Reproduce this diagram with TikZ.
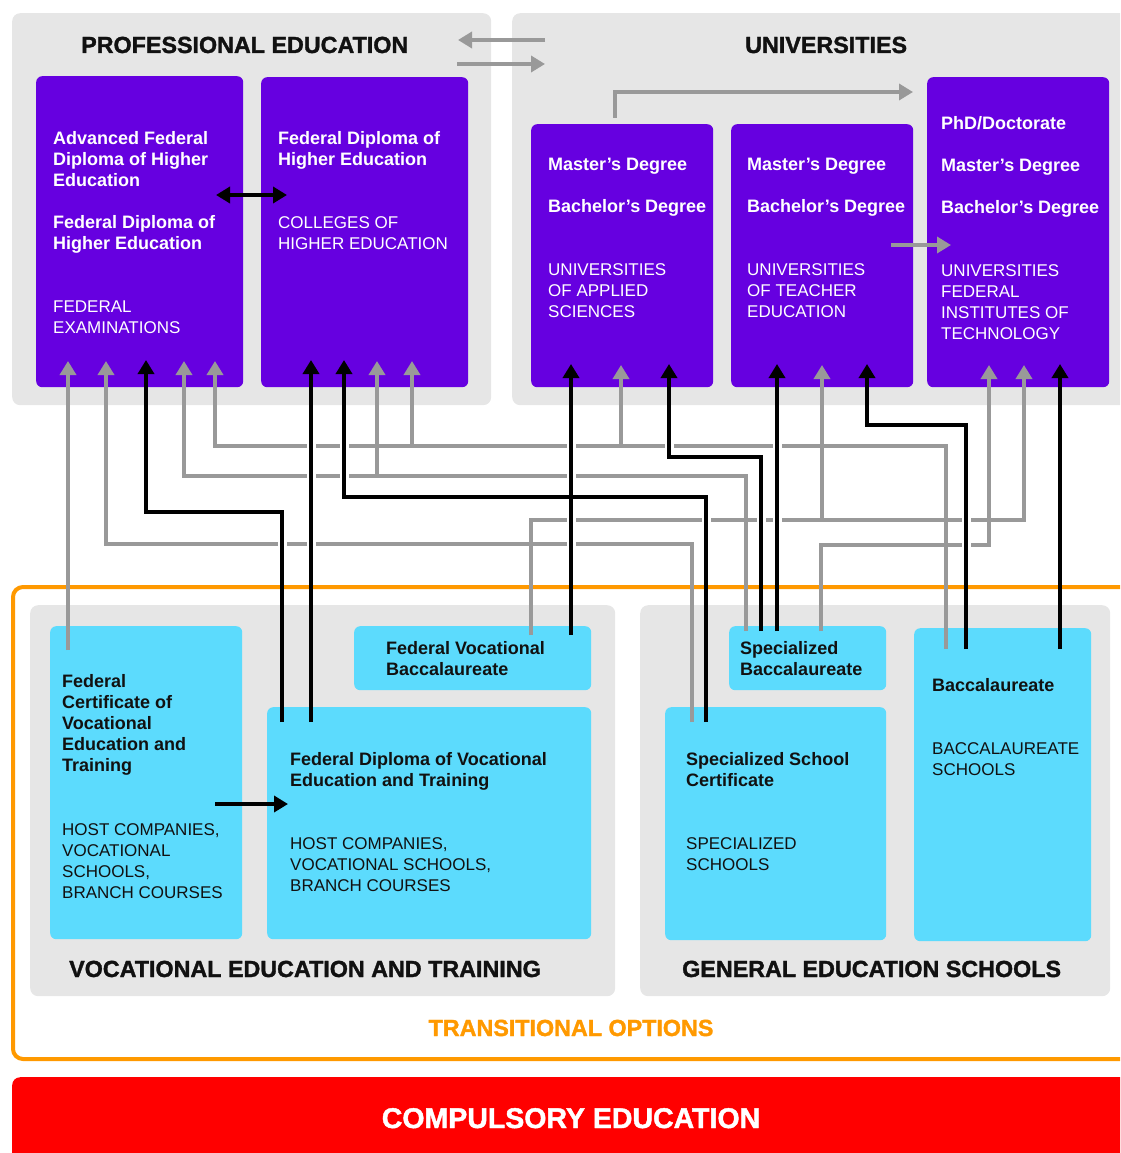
\documentclass[tikz,border=0pt]{standalone}
\usepackage{fontspec}
\setmainfont{Liberation Sans}
\newfontfamily\heavyfont{Liberation Sans Bold}[FakeBold=1.5]
\usetikzlibrary{arrows.meta}
\definecolor{panel}{HTML}{E6E6E6}
\definecolor{purp}{HTML}{6600E0}
\definecolor{cyanb}{HTML}{5CDBFD}
\definecolor{conn}{HTML}{999999}
\definecolor{orng}{HTML}{FF9900}
\definecolor{redb}{HTML}{FF0000}
\definecolor{ink}{HTML}{111111}
\newcommand\fbold{\fontsize{18}{21}\selectfont\bfseries}
\newcommand\freg{\fontsize{17}{21}\selectfont}
\newcommand\fhead{\heavyfont\fontsize{23.3}{28}\selectfont}
\begin{document}
\begin{tikzpicture}[x=1pt,y=-1pt,
  graypanel/.style={fill=panel, rounded corners=8pt, inner sep=0pt, anchor=north west},
  purplebox/.style={fill=purp, rounded corners=6pt, inner sep=0pt, anchor=north west},
  cyanbox/.style={fill=cyanb, rounded corners=6pt, inner sep=0pt, anchor=north west},
  wb/.style={text=white, font=\fbold, align=left, anchor=base west, inner sep=0pt},
  wr/.style={text=white, font=\freg, align=left, anchor=base west, inner sep=0pt},
  kb/.style={text=ink, font=\fbold, align=left, anchor=base west, inner sep=0pt},
  kr/.style={text=ink, font=\freg, align=left, anchor=base west, inner sep=0pt},
  head/.style={text=ink, font=\fhead, anchor=base west, inner sep=0pt},
  garrow/.style={draw=conn, line width=4pt, -{Triangle[width=16pt,length=14pt]}},
  barrow/.style={draw=black, line width=3.5pt, -{Triangle[width=16pt,length=14pt]}},
  halo/.style={draw=white, line width=9pt},
]
\clip (0,0) rectangle (1120,1153);
% ---------- top panels ----------
\node[graypanel, minimum width=479pt, minimum height=392pt] (pepanel) at (12,13) {};
\node[graypanel, minimum width=630pt, minimum height=392pt] (unipanel) at (512,13) {};
\node[head] (pehead) at (81,53) {PROFESSIONAL EDUCATION};
\node[head] (unihead) at (745,53) {UNIVERSITIES};

\node[purplebox, minimum width=207pt, minimum height=311pt] (pe1) at (36,76) {};
\node[purplebox, minimum width=207pt, minimum height=310pt] (pe2) at (261,77) {};
\node[purplebox, minimum width=182pt, minimum height=263pt] (u1) at (531,124) {};
\node[purplebox, minimum width=182pt, minimum height=263pt] (u2) at (731,124) {};
\node[purplebox, minimum width=182pt, minimum height=310pt] (u3) at (927,77) {};

% (multi-line nodes: base = baseline of the last line)
\node[wb] (pe1t1) at (53,186) {Advanced Federal\\Diploma of Higher\\Education};
\node[wb] (pe1t2) at (53,249) {Federal Diploma of\\Higher Education};
\node[wr] (pe1t3) at (53,333) {FEDERAL\\EXAMINATIONS};
\node[wb] (pe2t1) at (278,165) {Federal Diploma of\\Higher Education};
\node[wr] (pe2t2) at (278,249) {COLLEGES OF\\HIGHER EDUCATION};

\node[wb] (u1t1) at (548,170) {Master’s Degree};
\node[wb] (u1t2) at (548,212) {Bachelor’s Degree};
\node[wr] (u1t3) at (548,317) {UNIVERSITIES\\OF APPLIED\\SCIENCES};
\node[wb] (u2t1) at (747,170) {Master’s Degree};
\node[wb] (u2t2) at (747,212) {Bachelor’s Degree};
\node[wr] (u2t3) at (747,317) {UNIVERSITIES\\OF TEACHER\\EDUCATION};
\node[wb] (u3t0) at (941,129) {PhD/Doctorate};
\node[wb] (u3t1) at (941,171) {Master’s Degree};
\node[wb] (u3t2) at (941,213) {Bachelor’s Degree};
\node[wr] (u3t3) at (941,339) {UNIVERSITIES\\FEDERAL\\INSTITUTES OF\\TECHNOLOGY};

% ---------- transitional options ----------
\node[draw=orng, line width=4pt, rounded corners=10pt, inner sep=0pt, anchor=north west,
      minimum width=1130pt, minimum height=472pt] (trans) at (11,585) {};
\node[graypanel, minimum width=585pt, minimum height=391pt] (vetpanel) at (30,605) {};
\node[graypanel, minimum width=470pt, minimum height=391pt] (gespanel) at (640,605) {};
\node[head] (vethead) at (69,977) {VOCATIONAL EDUCATION AND TRAINING};
\node[head] (geshead) at (682,977) {GENERAL EDUCATION SCHOOLS};
\node[text=orng, font=\fhead, anchor=base, inner sep=0pt] (transhead) at (571,1036) {TRANSITIONAL OPTIONS};

\node[cyanbox, minimum width=192pt, minimum height=313pt] (fc) at (50,626) {};
\node[cyanbox, minimum width=237pt, minimum height=64pt] (fvb) at (354,626) {};
\node[cyanbox, minimum width=324pt, minimum height=232pt] (fd) at (267,707) {};
\node[cyanbox, minimum width=157pt, minimum height=64pt] (sb) at (729,626) {};
\node[cyanbox, minimum width=221pt, minimum height=233pt] (ssc) at (665,707) {};
\node[cyanbox, minimum width=177pt, minimum height=313pt] (bacc) at (914,628) {};

\node[kb] (fct1) at (62,771) {Federal\\Certificate of\\Vocational\\Education and\\Training};
\node[kr] (fct2) at (62,898) {HOST COMPANIES,\\VOCATIONAL\\SCHOOLS,\\BRANCH COURSES};
\node[kb] (fvbt) at (386,675) {Federal Vocational\\Baccalaureate};
\node[kb] (fdt1) at (290,786) {Federal Diploma of Vocational\\Education and Training};
\node[kr] (fdt2) at (290,891) {HOST COMPANIES,\\VOCATIONAL SCHOOLS,\\BRANCH COURSES};
\node[kb] (sbt) at (740,675) {Specialized\\Baccalaureate};
\node[kb] (ssct1) at (686,786) {Specialized School\\Certificate};
\node[kr] (ssct2) at (686,870) {SPECIALIZED\\SCHOOLS};
\node[kb] (bacct1) at (932,691) {Baccalaureate};
\node[kr] (bacct2) at (932,775) {BACCALAUREATE\\SCHOOLS};

% ---------- compulsory ----------
\node[fill=redb, rounded corners=8pt, inner sep=0pt, anchor=north west,
      minimum width=1130pt, minimum height=100pt] (compulsory) at (12,1077) {};
\node[text=white, font=\heavyfont\fontsize{28.5}{34}\selectfont, anchor=base, inner sep=0pt] (comptext) at (571,1128) {COMPULSORY EDUCATION};

% ---------- ports ----------
\coordinate (fc1) at (68,650);
\coordinate (fvb1) at (531,635); \coordinate (fvb2) at (571,635);
\coordinate (fd1) at (282,722);  \coordinate (fd2) at (311,722);
\coordinate (sb1) at (746,631);  \coordinate (sb2) at (761,631);
\coordinate (sb3) at (777,631);  \coordinate (sb4) at (821,631);
\coordinate (ssc1) at (692,722); \coordinate (ssc2) at (706,722);
\coordinate (ba1) at (946,649);  \coordinate (ba2) at (966,649); \coordinate (ba3) at (1060,649);
\coordinate (pe1a) at (68,361);  \coordinate (pe1b) at (106,361); \coordinate (pe1c) at (146,360);
\coordinate (pe1d) at (184,361); \coordinate (pe1e) at (215,361);
\coordinate (pe2a) at (311,360); \coordinate (pe2b) at (344,360);
\coordinate (pe2c) at (377,361); \coordinate (pe2d) at (412,361);
\coordinate (u1a) at (571,364); \coordinate (u1b) at (621,365); \coordinate (u1c) at (669,364);
\coordinate (u2a) at (777,364); \coordinate (u2b) at (822,365); \coordinate (u2c) at (867,364);
\coordinate (u3a) at (989,365); \coordinate (u3b) at (1024,365); \coordinate (u3c) at (1060,364);

% ---------- gray connectors ----------
\draw[garrow] (fc1) -- (pe1a);
\draw[garrow] (ssc1) |- (pe1b |- 0,544) -- (pe1b);
\draw[garrow] (sb1) |- (pe1d |- 0,476) -- (pe1d);
\draw[garrow] (pe2c |- 0,476) -- (pe2c);
\draw[garrow] (ba1) |- (pe1e |- 0,446) -- (pe1e);
\draw[garrow] (pe2d |- 0,446) -- (pe2d);
\draw[garrow] (u1b |- 0,446) -- (u1b);
\draw[garrow] (fvb1) |- (u3b |- 0,520) -- (u3b);
\draw[garrow] (u2b |- 0,520) -- (u2b);
\draw[garrow] (sb4) |- (u3a |- 0,545) -- (u3a);

% ---------- halos ----------
\begin{scope}
\clip (0,407) rectangle (1120,580);
\draw[halo] (fd1) |- (pe1c |- 0,512) -- (pe1c);
\draw[halo] (fd2) -- (pe2a);
\draw[halo] (ssc2) |- (pe2b |- 0,497) -- (pe2b);
\draw[halo] (fvb2) -- (u1a);
\draw[halo] (sb2) |- (u1c |- 0,457) -- (u1c);
\draw[halo] (sb3) -- (u2a);
\draw[halo] (ba2) |- (u2c |- 0,425) -- (u2c);
\draw[halo] (ba3) -- (u3c);
\end{scope}

% ---------- black connectors ----------
\draw[barrow] (fd1) |- (pe1c |- 0,512) -- (pe1c);
\draw[barrow] (fd2) -- (pe2a);
\draw[barrow] (ssc2) |- (pe2b |- 0,497) -- (pe2b);
\draw[barrow] (fvb2) -- (u1a);
\draw[barrow] (sb2) |- (u1c |- 0,457) -- (u1c);
\draw[barrow] (sb3) -- (u2a);
\draw[barrow] (ba2) |- (u2c |- 0,425) -- (u2c);
\draw[barrow] (ba3) -- (u3c);

% ---------- other arrows ----------
\coordinate (uniL1) at (545,40); \coordinate (peR1) at (458,40);
\coordinate (peR2) at (457,64);  \coordinate (uniL2) at (545,64);
\draw[garrow] (uniL1) -- (peR1);
\draw[garrow] (peR2) -- (uniL2);
\coordinate (u1up) at (615,118); \coordinate (u3in) at (913,92);
\draw[garrow] (u1up) |- (u3in);
\coordinate (u2out) at (891,245); \coordinate (u3in2) at (951,245);
\draw[garrow] (u2out) -- (u3in2);
\coordinate (pe1r) at (216,195); \coordinate (pe2l) at (287,195);
\draw[draw=black, line width=4pt, {Triangle[width=16pt,length=14pt]}-{Triangle[width=16pt,length=14pt]}] (pe1r) -- (pe2l);
\coordinate (fcr) at (215,804); \coordinate (fdl) at (288,804);
\draw[barrow] (fcr) -- (fdl);
\end{tikzpicture}
\end{document}
